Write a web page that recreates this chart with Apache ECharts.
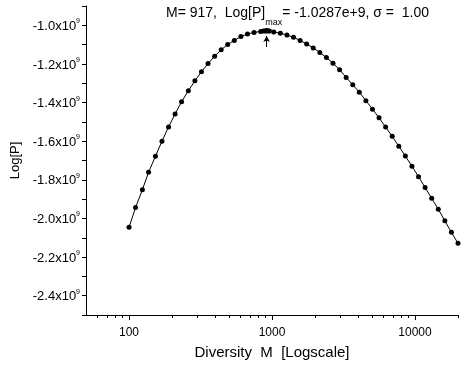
<!DOCTYPE html>
<html>
<head>
<meta charset="utf-8">
<script src="https://cdn.jsdelivr.net/npm/echarts@6/dist/echarts.min.js"></script>
<style>
html, body { margin: 0; padding: 0; background: #fff; }
#chart { width: 465px; height: 365px; }
</style>
</head>
<body>
<div id="chart"></div>
<script>
// diversity M (log axis) and Log[P]
var diversity = [100, 111, 124, 137, 153, 170, 189, 210, 233, 260, 289, 321, 357, 397, 441,
    490, 545, 606, 674, 749, 833, 870, 895, 910, 917, 926, 940, 960, 1029, 1144, 1272,
    1414, 1572, 1748, 1943, 2161, 2402, 2671, 2969, 3301, 3670, 4080, 4536, 5044, 5607,
    6234, 6931, 7706, 8567, 9525, 10589, 11774, 13090, 14553, 16180, 17989, 20000];
var logP = [-2.046e9, -1.944e9, -1.851e9, -1.761e9, -1.678e9, -1.600e9, -1.526e9, -1.459e9,
    -1.396e9, -1.339e9, -1.287e9, -1.240e9, -1.198e9, -1.160e9, -1.127e9, -1.099e9, -1.078e9,
    -1.058e9, -1.045e9, -1.037e9, -1.0316e9, -1.0296e9, -1.0290e9, -1.0288e9, -1.0287e9,
    -1.0287e9, -1.0289e9, -1.0292e9, -1.034e9, -1.041e9, -1.050e9, -1.062e9, -1.078e9,
    -1.097e9, -1.117e9, -1.141e9, -1.167e9, -1.196e9, -1.230e9, -1.270e9, -1.308e9, -1.346e9,
    -1.390e9, -1.434e9, -1.479e9, -1.527e9, -1.575e9, -1.626e9, -1.677e9, -1.730e9, -1.784e9,
    -1.840e9, -1.896e9, -1.952e9, -2.012e9, -2.072e9, -2.129e9];

var peakM = 917;
var arrowFrom = -1.112e9, arrowTo = -1.055e9;

var yLabelValues = [-2.4e9, -2.2e9, -2.0e9, -1.8e9, -1.6e9, -1.4e9, -1.2e9, -1.0e9];
var xMajorTicks = [100, 1000, 10000];
var xMinorTicks = [60, 70, 80, 90, 200, 300, 400, 500, 600, 700, 800, 900,
    2000, 3000, 4000, 5000, 6000, 7000, 8000, 9000, 20000];

var font = 'Liberation Sans, Arial, sans-serif';
var ink = '#000';

var chart = echarts.init(document.getElementById('chart'));

var grid = { left: 86, top: 6, width: 372, height: 309 };

var option = {
    backgroundColor: '#fff',
    animation: false,
    title: {
        text: '{a|M= 917,  Log[P]}{s|max}{a|= -1.0287e+9, \u03c3 =  1.00}',
        left: 166,
        top: 6,
        padding: 0,
        textStyle: {
            fontWeight: 'normal',
            rich: {
                a: { fontFamily: font, fontSize: 14, fontWeight: 'normal', color: ink, lineHeight: 16, verticalAlign: 'top' },
                s: { fontFamily: font, fontSize: 9, fontWeight: 'normal', color: ink, lineHeight: 21, verticalAlign: 'bottom' }
            }
        }
    },
    grid: [
        { left: grid.left, top: grid.top, width: grid.width, height: grid.height },
        { left: grid.left, top: grid.top, width: grid.width, height: grid.height }
    ],
    xAxis: [
        {
            type: 'log',
            gridIndex: 0,
            min: 50,
            max: 20000,
            name: 'Diversity  M  [Logscale]',
            nameLocation: 'middle',
            nameGap: 30,
            nameTextStyle: { fontFamily: font, fontSize: 15, color: ink },
            axisLine: { lineStyle: { color: ink, width: 1 } },
            axisTick: { customValues: xMajorTicks, length: 5, lineStyle: { color: ink } },
            axisLabel: {
                customValues: xMajorTicks,
                formatter: function (v) { return String(v); },
                fontFamily: font, fontSize: 12, color: ink, margin: 12
            },
            splitLine: { show: false }
        },
        {
            type: 'log',
            gridIndex: 1,
            min: 50,
            max: 20000,
            axisLine: { show: false },
            axisTick: { customValues: xMinorTicks, length: 3, lineStyle: { color: ink } },
            axisLabel: { show: false },
            splitLine: { show: false }
        }
    ],
    yAxis: [
        {
            type: 'value',
            gridIndex: 0,
            min: -2.5e9,
            max: -0.9e9,
            interval: 1e8,
            name: 'Log[P]',
            nameLocation: 'middle',
            nameGap: 63,
            nameTextStyle: { fontFamily: font, fontSize: 13, color: ink },
            axisLine: { show: true, lineStyle: { color: ink, width: 1 } },
            axisTick: { show: true, length: 4, lineStyle: { color: ink } },
            axisLabel: {
                customValues: yLabelValues,
                margin: 6,
                formatter: function (v) {
                    return '{a|' + (v / 1e9).toFixed(1) + 'x10}{s|9}';
                },
                rich: {
                    a: { fontFamily: font, fontSize: 13, color: ink, lineHeight: 15, verticalAlign: 'bottom' },
                    s: { fontFamily: font, fontSize: 7, color: ink, lineHeight: 8, verticalAlign: 'top' }
                }
            },
            splitLine: { show: false }
        },
        {
            type: 'value',
            gridIndex: 1,
            min: -2.5e9,
            max: -0.9e9,
            show: false
        }
    ],
    series: [
        {
            type: 'line',
            xAxisIndex: 0,
            yAxisIndex: 0,
            data: diversity.map(function (m, i) { return [m, logP[i]]; }),
            symbol: 'circle',
            symbolSize: 5,
            showAllSymbol: true,
            lineStyle: { color: ink, width: 1 },
            itemStyle: { color: ink },
            markLine: {
                silent: true,
                symbol: ['none', 'arrow'],
                symbolSize: [5, 6],
                label: { show: false },
                lineStyle: { color: ink, width: 1, type: 'solid' },
                data: [[
                    { coord: [peakM, arrowFrom] },
                    { coord: [peakM, arrowTo] }
                ]]
            }
        }
    ]
};

chart.setOption(option);
</script>
</body>
</html>
